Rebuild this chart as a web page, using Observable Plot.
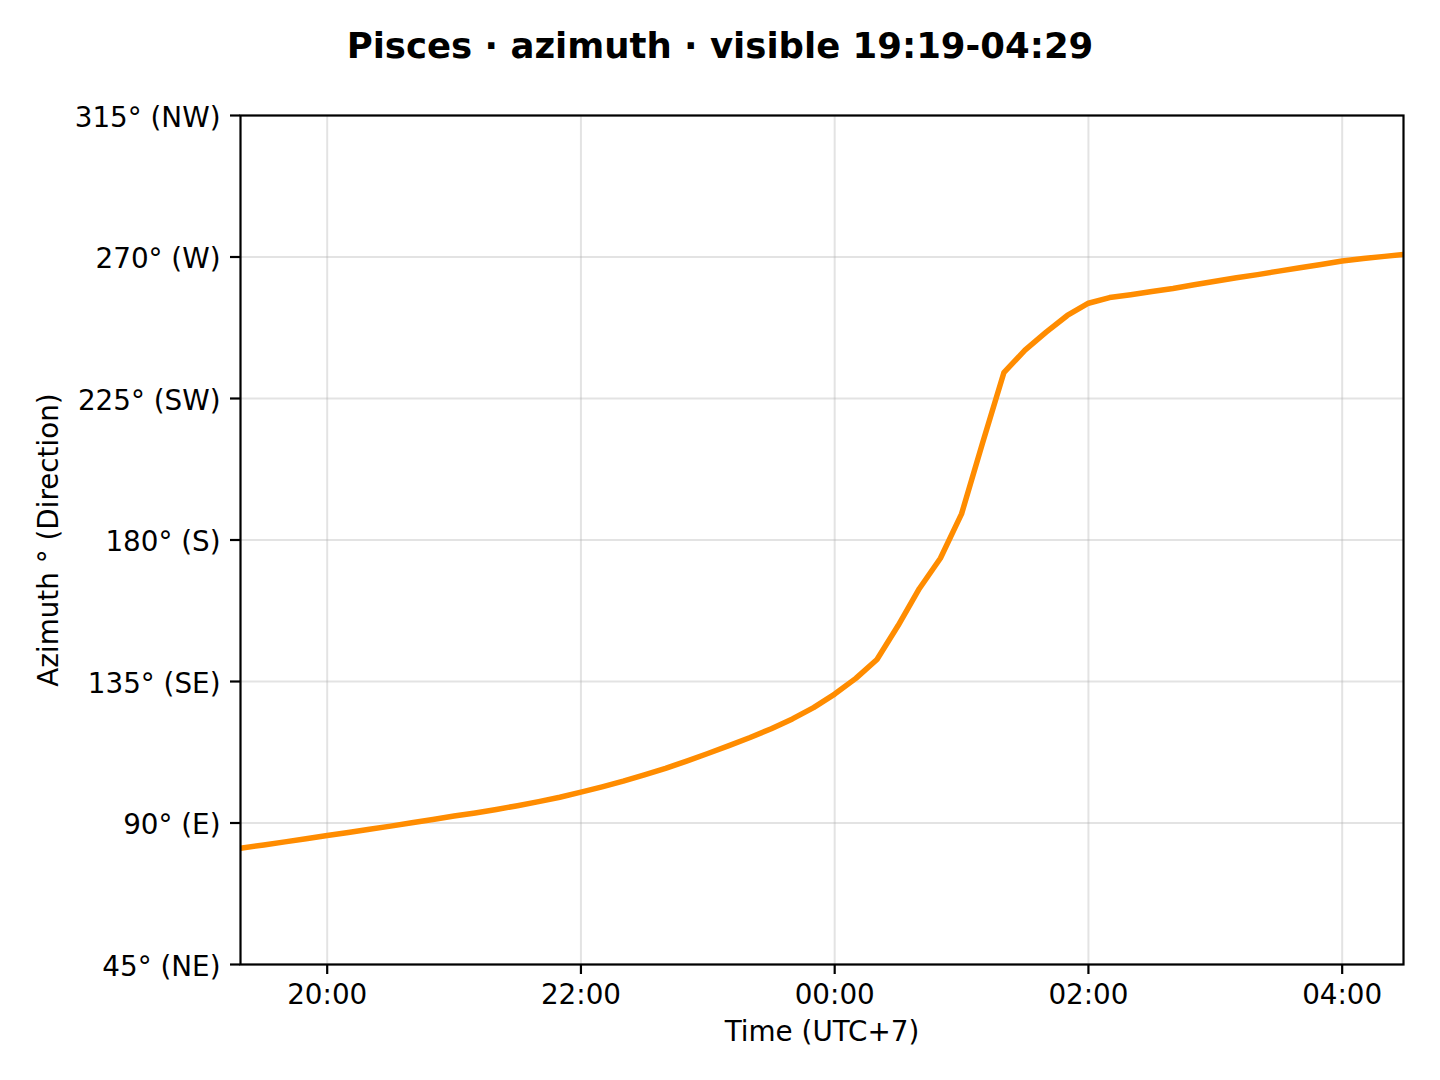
<!DOCTYPE html>
<html>
<head>
<meta charset="utf-8">
<script src="https://cdn.jsdelivr.net/npm/d3@7"></script>
<script src="https://cdn.jsdelivr.net/npm/@observablehq/plot@0.6"></script>
<style>
  html, body { margin: 0; padding: 0; background: #fff; }
  #wrap { width: 1440px; height: 1080px; position: relative; }
  #title { height: 90px; box-sizing: border-box; padding-top: 25px; text-align: center;
           font-family: "DejaVu Sans", sans-serif; font-weight: bold; font-size: 35.5px; line-height: normal; color: #000;
           white-space: nowrap; overflow: visible; }
</style>
</head>
<body>
<div id="wrap">
  <div id="title"></div>
  <div id="chart"></div>
</div>
<script>
const titleText = "Pisces · azimuth · visible 19:19-04:29";
const xLabel = "Time (UTC+7)";
const yLabel = "Azimuth ° (Direction)";

const times = [
  "19:19","19:30","19:40","19:50","20:00","20:10","20:20","20:30","20:40","20:50",
  "21:00","21:10","21:20","21:30","21:40","21:50","22:00","22:10","22:20","22:30",
  "22:40","22:50","23:00","23:10","23:20","23:30","23:40","23:50","00:00","00:10",
  "00:20","00:30","00:40","00:50","01:00","01:10","01:20","01:30","01:40","01:50",
  "02:00","02:10","02:20","02:30","02:40","02:50","03:00","03:10","03:20","03:30",
  "03:40","03:50","04:00","04:10","04:20","04:29"
];
const azimuth = [
  82.0, 83.0, 84.0, 85.0, 86.0, 87.0, 88.0, 89.0, 90.1, 91.1,
  92.2, 93.2, 94.3, 95.5, 96.8, 98.2, 99.8, 101.5, 103.3, 105.3,
  107.4, 109.7, 112.1, 114.6, 117.2, 120.0, 123.1, 126.7, 131.0, 136.0,
  142.0, 152.8, 164.5, 174.2, 188.3, 211.0, 233.2, 240.4, 246.1, 251.4,
  255.3, 257.1, 258.0, 259.0, 260.0, 261.2, 262.3, 263.4, 264.4, 265.5,
  266.6, 267.6, 268.7, 269.5, 270.2, 270.8
];
const xTickTimes = ["20:00","22:00","00:00","02:00","04:00"];
const yTicks = [45, 90, 135, 180, 225, 270, 315];
const yTickLabels = ["45° (NE)","90° (E)","135° (SE)","180° (S)","225° (SW)","270° (W)","315° (NW)"];

document.getElementById("title").textContent = titleText;

function toDate(s) {
  const [h, m] = s.split(":").map(Number);
  const day = h < 12 ? 2 : 1;
  return new Date(Date.UTC(2024, 0, day, h, m));
}

const data = times.map((t, i) => ({ t: toDate(t), az: azimuth[i] }));
const xTicks = xTickTimes.map(toDate);
const yLabelMap = new Map(yTicks.map((v, i) => [v, yTickLabels[i]]));
const gridStyle = { stroke: "#b0b0b0", strokeOpacity: 0.35, strokeWidth: 2 };

const chart = Plot.plot({
  width: 1440,
  height: 990,
  marginTop: 25,
  marginBottom: 116,
  marginLeft: 240,
  marginRight: 37,
  style: { fontFamily: "DejaVu Sans, sans-serif", fontSize: "27.8px", color: "#000", background: "#fff", overflow: "visible" },
  x: { type: "utc", domain: [data[0].t, data[data.length - 1].t] },
  y: { domain: [45, 315] },
  marks: [
    Plot.gridX(xTicks, gridStyle),
    Plot.gridY(yTicks, gridStyle),
    Plot.line(data, { x: "t", y: "az", stroke: "#ff8c00", strokeWidth: 5.5, strokeLinejoin: "round", clip: true }),
    Plot.frame({ stroke: "#000", strokeWidth: 2.2 }),
    Plot.axisX(xTicks, {
      tickSize: 10, tickPadding: 10, strokeWidth: 2.2,
      tickFormat: d3.utcFormat("%H:%M"),
      label: null
    }),
    Plot.axisY(yTicks, {
      tickSize: 10, strokeWidth: 2.2,
      tickFormat: () => "",
      label: null
    }),
    Plot.axisY(yTicks, {
      tickSize: 0, tickPadding: 20, dy: 2.5,
      tickFormat: d => yLabelMap.get(d),
      label: null
    }),
    Plot.text([xLabel], {
      frameAnchor: "bottom", text: d => d, dy: 68, lineAnchor: "middle", textAnchor: "middle",
      fontSize: 27.8, fill: "#000"
    }),
    Plot.text([yLabel], {
      frameAnchor: "left", text: d => d, rotate: -90, dx: -191, lineAnchor: "middle", textAnchor: "middle",
      fontSize: 27.8, fill: "#000"
    })
  ]
});
document.getElementById("chart").appendChild(chart);
</script>
</body>
</html>
